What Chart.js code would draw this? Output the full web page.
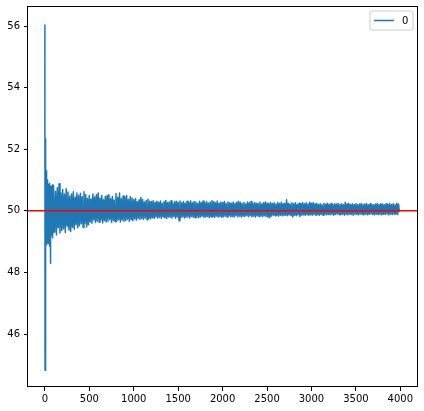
<!DOCTYPE html>
<html>
<head>
<meta charset="utf-8">
<script src="https://cdn.jsdelivr.net/npm/chart.js@4.4.0/dist/chart.umd.min.js"></script>
<style>
  html,body{margin:0;padding:0;background:#fff;}
</style>
</head>
<body>
<canvas id="seriesChart" width="424" height="411"></canvas>
<script>
// series "0": first samples every 2, then every 10
const seriesName = '0'
const earlyStep = 2
const laterStart = 100
const laterStep = 10

const earlyValues = [
  56.05, 44.82, 51.6, 48.9, 51.9, 52.34, 48.77, 51.2, 49.1, 51.3,
  48.9, 51.0, 49.2, 50.8, 49.0, 50.9, 49.3, 51.0, 48.95, 50.7,
  49.2, 50.85, 49.1, 50.6, 49.3, 50.9, 48.86, 50.7, 49.0, 50.8,
  49.0, 50.6, 48.3, 50.7, 49.1, 50.75, 49.2, 50.5, 49.35, 50.8,
  49.2, 50.6, 49.4, 50.7, 49.13, 50.85, 49.3, 50.55, 49.4, 50.7
]

const laterValues = [
  50.82, 49.31, 50.64, 49.22, 50.75, 49.45, 50.88, 49.28, 50.58, 49.36,
  50.69, 49.42, 50.55, 49.30, 50.72, 49.51, 50.61, 49.38, 50.48, 49.33,
  50.55, 49.47, 50.62, 49.40, 50.44, 49.55, 50.58, 49.45, 50.50, 49.52,
  50.57, 49.58, 50.46, 49.46, 50.62, 49.60, 50.52, 49.48, 50.40, 49.55,
  50.50, 49.64, 50.38, 49.60, 50.55, 49.70, 50.45, 49.62, 50.52, 49.67,
  50.58, 49.63, 50.42, 49.70, 50.50, 49.61, 50.36, 49.68, 50.47, 49.64,
  50.49, 49.66, 50.52, 49.72, 50.40, 49.63, 50.47, 49.69, 50.35, 49.65,
  50.56, 49.67, 50.44, 49.71, 50.58, 49.64, 50.39, 49.70, 50.48, 49.66,
  50.45, 49.69, 50.50, 49.73, 50.37, 49.66, 50.46, 49.72, 50.42, 49.68,
  50.36, 49.74, 50.40, 49.70, 50.30, 49.76, 50.35, 49.72, 50.43, 49.75,
  50.37, 49.73, 50.29, 49.77, 50.34, 49.71, 50.38, 49.76, 50.31, 49.74,
  50.30, 49.78, 50.33, 49.75, 50.26, 49.80, 50.31, 49.77, 50.28, 49.79,
  50.32, 49.76, 50.25, 49.81, 50.30, 49.78, 50.34, 49.75, 50.27, 49.80,
  50.29, 49.79, 50.33, 49.77, 50.24, 49.82, 50.30, 49.76, 50.31, 49.80,
  50.28, 49.68, 50.32, 49.78, 50.26, 49.81, 50.30, 49.77, 50.25, 49.79,
  50.31, 49.80, 50.27, 49.77, 50.33, 49.82, 50.26, 49.79, 50.30, 49.78,
  50.29, 49.81, 50.24, 49.78, 50.31, 49.80, 50.27, 49.83, 50.32, 49.79,
  50.26, 49.80, 50.30, 49.82, 50.25, 49.78, 50.29, 49.81, 50.33, 49.80,
  50.30, 49.79, 50.26, 49.83, 50.32, 49.80, 50.24, 49.82, 50.28, 49.79,
  50.27, 49.81, 50.30, 49.83, 50.24, 49.80, 50.29, 49.84, 50.26, 49.81,
  50.25, 49.82, 50.29, 49.80, 50.23, 49.84, 50.28, 49.81, 50.31, 49.83,
  50.28, 49.80, 50.24, 49.83, 50.27, 49.82, 50.22, 49.85, 50.29, 49.81,
  50.26, 49.84, 50.30, 49.81, 50.23, 49.83, 50.27, 49.80, 50.25, 49.84,
  50.24, 49.82, 50.28, 49.85, 50.22, 49.81, 50.26, 49.84, 50.29, 49.82,
  50.25, 49.79, 50.23, 49.78, 50.27, 49.83, 50.24, 49.86, 50.26, 49.84,
  50.22, 49.85, 50.27, 49.83, 50.24, 49.86, 50.28, 49.84, 50.23, 49.85,
  50.24, 49.86, 50.36, 49.84, 50.25, 49.87, 50.22, 49.85, 50.26, 49.80,
  50.23, 49.86, 50.26, 49.84, 50.21, 49.87, 50.25, 49.82, 50.24, 49.86,
  50.27, 49.87, 50.23, 49.85, 50.26, 49.88, 50.22, 49.86, 50.28, 49.87,
  50.25, 49.86, 50.27, 49.88, 50.22, 49.85, 50.24, 49.87, 50.21, 49.86,
  50.23, 49.88, 50.20, 49.86, 50.24, 49.89, 50.22, 49.87, 50.25, 49.88,
  50.21, 49.87, 50.24, 49.89, 50.20, 49.86, 50.23, 49.88, 50.22, 49.90,
  50.24, 49.88, 50.21, 49.87, 50.23, 49.89, 50.20, 49.86, 50.28, 49.88,
  50.22, 49.87, 50.24, 49.89, 50.21, 49.88, 50.23, 49.86, 50.20, 49.89,
  50.23, 49.88, 50.20, 49.87, 50.22, 49.90, 50.24, 49.88, 50.21, 49.87,
  50.22, 49.89, 50.24, 49.87, 50.20, 49.88, 50.23, 49.90, 50.21, 49.88,
  50.20, 49.87, 50.22, 49.89, 50.24, 49.88, 50.21, 49.90, 50.23, 49.87,
  50.22, 49.89, 50.20, 49.88, 50.23, 49.90, 50.21, 49.87, 50.24, 49.89,
  50.21, 49.88, 50.23, 49.90, 50.20, 49.89, 50.25, 49.88, 50.22, 49.96
]

const referenceLevel = 50
const xTicks = [0, 500, 1000, 1500, 2000, 2500, 3000, 3500, 4000]
const yTicks = [46, 48, 50, 52, 54, 56]
const xMin = -190, xMax = 4199
const yMin = 44.28, yMax = 56.62

let points = []
earlyValues.forEach((v, i) => points.push({x: i * earlyStep, y: v}))
laterValues.forEach((v, i) => points.push({x: laterStart + i * laterStep, y: v}))

const font = {family: 'DejaVu Sans', size: 10}

// matplotlib-like box around the axes and a framed legend in the corner
const framePlugin = {
  id: 'frame',
  afterDraw(chart) {
    const ctx = chart.ctx
    const a = chart.chartArea
    ctx.save()
    ctx.strokeStyle = '#000'
    ctx.lineWidth = 1
    ctx.strokeRect(a.left - 0.5, a.top - 0.5, a.right - a.left, a.bottom - a.top)

    const ds = chart.data.datasets[0]
    const bw = 43, bh = 19
    const bx = a.right - 5 - bw, by = a.top + 4
    const r = 2
    ctx.beginPath()
    ctx.moveTo(bx + r, by)
    ctx.arcTo(bx + bw, by, bx + bw, by + bh, r)
    ctx.arcTo(bx + bw, by + bh, bx, by + bh, r)
    ctx.arcTo(bx, by + bh, bx, by, r)
    ctx.arcTo(bx, by, bx + bw, by, r)
    ctx.closePath()
    ctx.fillStyle = 'rgba(255,255,255,0.8)'
    ctx.fill()
    ctx.strokeStyle = '#cccccc'
    ctx.lineWidth = 1
    ctx.stroke()

    const my = by + bh / 2
    ctx.beginPath()
    ctx.moveTo(bx + 4, my)
    ctx.lineTo(bx + 24, my)
    ctx.strokeStyle = ds.borderColor
    ctx.lineWidth = ds.borderWidth
    ctx.stroke()

    ctx.fillStyle = '#000'
    ctx.font = '10px "DejaVu Sans"'
    ctx.textBaseline = 'middle'
    ctx.textAlign = 'left'
    ctx.fillText(ds.label, bx + 32, my + 0.5)
    ctx.restore()
  }
}

let chart = new Chart(document.getElementById('seriesChart').getContext('2d'), {
  type: 'line',
  data: {
    datasets: [{
      label: seriesName,
      data: points,
      borderColor: '#1f77b4',
      borderWidth: 1.5,
      borderJoinStyle: 'round',
      pointRadius: 0,
      tension: 0,
      fill: false,
      order: 1
    }, {
      label: 'level',
      data: [{x: xMin, y: referenceLevel}, {x: xMax, y: referenceLevel}],
      borderColor: 'red',
      borderWidth: 1.5,
      pointRadius: 0,
      fill: false,
      order: 0
    }]
  },
  options: {
    responsive: false,
    animation: false,
    devicePixelRatio: 1,
    layout: {padding: {top: 7, right: 6, left: 0, bottom: 0}},
    plugins: {legend: {display: false}, tooltip: {enabled: false}},
    scales: {
      x: {
        type: 'linear',
        min: xMin,
        max: xMax,
        afterBuildTicks: (s) => { s.ticks = xTicks.map(v => ({value: v})) },
        afterFit: (s) => { s.height = 24; s.paddingLeft = 0; s.paddingRight = 0 },
        grid: {display: true, drawOnChartArea: false, drawTicks: true, tickLength: 4, tickColor: '#000', tickWidth: 1},
        border: {display: false},
        ticks: {font: font, color: '#000', padding: 2, maxRotation: 0, autoSkip: false, callback: (v) => String(v)}
      },
      y: {
        type: 'linear',
        min: yMin,
        max: yMax,
        afterBuildTicks: (s) => { s.ticks = yTicks.map(v => ({value: v})) },
        afterFit: (s) => { s.width = 28; s.paddingTop = 0; s.paddingBottom = 0 },
        grid: {display: true, drawOnChartArea: false, drawTicks: true, tickLength: 4, tickColor: '#000', tickWidth: 1},
        border: {display: false},
        ticks: {font: font, color: '#000', padding: 4, autoSkip: false, callback: (v) => String(v)}
      }
    }
  },
  plugins: [framePlugin]
})
</script>
</body>
</html>
